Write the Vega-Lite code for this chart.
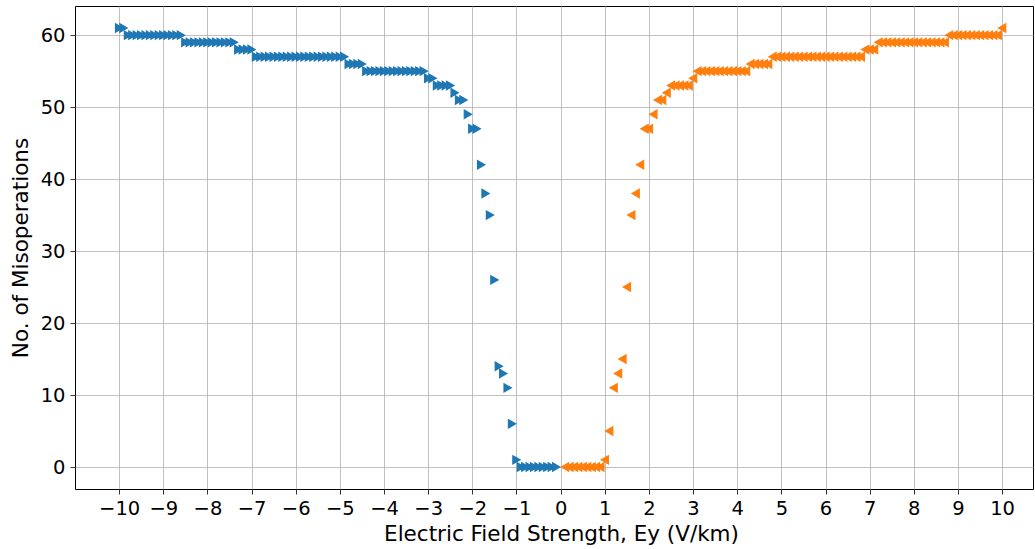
{
  "$schema": "https://vega.github.io/schema/vega-lite/v6.json",
  "width": 958,
  "height": 483,
  "autosize": {"type": "none"},
  "padding": {"left": 75, "top": 6, "right": 2, "bottom": 60},
  "background": "white",
  "config": {
    "view": {"stroke": "black", "strokeWidth": 1},
    "axis": {
      "grid": true,
      "gridColor": "#b0b0b0",
      "gridWidth": 0.8,
      "domain": false,
      "tickColor": "black",
      "tickSize": 5,
      "tickWidth": 0.8,
      "labelFont": "DejaVu Sans",
      "labelFontSize": 19.5,
      "labelColor": "black",
      "labelPadding": 4,
      "titleFont": "DejaVu Sans",
      "titleFontSize": 21.5,
      "titleFontWeight": "normal",
      "titleColor": "black"
    }
  },
  "datasets": {
    "pts": [
      {"x": -10, "y": 61, "s": "n"}, {"x": -9.9, "y": 61, "s": "n"},
      {"x": -9.8, "y": 60, "s": "n"}, {"x": -9.7, "y": 60, "s": "n"}, {"x": -9.6, "y": 60, "s": "n"}, {"x": -9.5, "y": 60, "s": "n"}, {"x": -9.4, "y": 60, "s": "n"}, {"x": -9.3, "y": 60, "s": "n"}, {"x": -9.2, "y": 60, "s": "n"}, {"x": -9.1, "y": 60, "s": "n"}, {"x": -9.0, "y": 60, "s": "n"}, {"x": -8.9, "y": 60, "s": "n"}, {"x": -8.8, "y": 60, "s": "n"}, {"x": -8.7, "y": 60, "s": "n"}, {"x": -8.6, "y": 60, "s": "n"},
      {"x": -8.5, "y": 59, "s": "n"}, {"x": -8.4, "y": 59, "s": "n"}, {"x": -8.3, "y": 59, "s": "n"}, {"x": -8.2, "y": 59, "s": "n"}, {"x": -8.1, "y": 59, "s": "n"}, {"x": -8.0, "y": 59, "s": "n"}, {"x": -7.9, "y": 59, "s": "n"}, {"x": -7.8, "y": 59, "s": "n"}, {"x": -7.7, "y": 59, "s": "n"}, {"x": -7.6, "y": 59, "s": "n"}, {"x": -7.5, "y": 59, "s": "n"}, {"x": -7.4, "y": 59, "s": "n"},
      {"x": -7.3, "y": 58, "s": "n"}, {"x": -7.2, "y": 58, "s": "n"}, {"x": -7.1, "y": 58, "s": "n"}, {"x": -7.0, "y": 58, "s": "n"},
      {"x": -6.9, "y": 57, "s": "n"}, {"x": -6.8, "y": 57, "s": "n"}, {"x": -6.7, "y": 57, "s": "n"}, {"x": -6.6, "y": 57, "s": "n"}, {"x": -6.5, "y": 57, "s": "n"}, {"x": -6.4, "y": 57, "s": "n"}, {"x": -6.3, "y": 57, "s": "n"}, {"x": -6.2, "y": 57, "s": "n"}, {"x": -6.1, "y": 57, "s": "n"}, {"x": -6.0, "y": 57, "s": "n"}, {"x": -5.9, "y": 57, "s": "n"}, {"x": -5.8, "y": 57, "s": "n"}, {"x": -5.7, "y": 57, "s": "n"}, {"x": -5.6, "y": 57, "s": "n"}, {"x": -5.5, "y": 57, "s": "n"}, {"x": -5.4, "y": 57, "s": "n"}, {"x": -5.3, "y": 57, "s": "n"}, {"x": -5.2, "y": 57, "s": "n"}, {"x": -5.1, "y": 57, "s": "n"}, {"x": -5.0, "y": 57, "s": "n"}, {"x": -4.9, "y": 57, "s": "n"},
      {"x": -4.8, "y": 56, "s": "n"}, {"x": -4.7, "y": 56, "s": "n"}, {"x": -4.6, "y": 56, "s": "n"}, {"x": -4.5, "y": 56, "s": "n"},
      {"x": -4.4, "y": 55, "s": "n"}, {"x": -4.3, "y": 55, "s": "n"}, {"x": -4.2, "y": 55, "s": "n"}, {"x": -4.1, "y": 55, "s": "n"}, {"x": -4.0, "y": 55, "s": "n"}, {"x": -3.9, "y": 55, "s": "n"}, {"x": -3.8, "y": 55, "s": "n"}, {"x": -3.7, "y": 55, "s": "n"}, {"x": -3.6, "y": 55, "s": "n"}, {"x": -3.5, "y": 55, "s": "n"}, {"x": -3.4, "y": 55, "s": "n"}, {"x": -3.3, "y": 55, "s": "n"}, {"x": -3.2, "y": 55, "s": "n"}, {"x": -3.1, "y": 55, "s": "n"},
      {"x": -3.0, "y": 54, "s": "n"}, {"x": -2.9, "y": 54, "s": "n"},
      {"x": -2.8, "y": 53, "s": "n"}, {"x": -2.7, "y": 53, "s": "n"}, {"x": -2.6, "y": 53, "s": "n"}, {"x": -2.5, "y": 53, "s": "n"},
      {"x": -2.4, "y": 52, "s": "n"},
      {"x": -2.3, "y": 51, "s": "n"}, {"x": -2.2, "y": 51, "s": "n"},
      {"x": -2.1, "y": 49, "s": "n"},
      {"x": -2.0, "y": 47, "s": "n"}, {"x": -1.9, "y": 47, "s": "n"},
      {"x": -1.8, "y": 42, "s": "n"}, {"x": -1.7, "y": 38, "s": "n"}, {"x": -1.6, "y": 35, "s": "n"}, {"x": -1.5, "y": 26, "s": "n"}, {"x": -1.4, "y": 14, "s": "n"}, {"x": -1.3, "y": 13, "s": "n"}, {"x": -1.2, "y": 11, "s": "n"}, {"x": -1.1, "y": 6, "s": "n"}, {"x": -1.0, "y": 1, "s": "n"},
      {"x": -0.9, "y": 0, "s": "n"}, {"x": -0.8, "y": 0, "s": "n"}, {"x": -0.7, "y": 0, "s": "n"}, {"x": -0.6, "y": 0, "s": "n"}, {"x": -0.5, "y": 0, "s": "n"}, {"x": -0.4, "y": 0, "s": "n"}, {"x": -0.3, "y": 0, "s": "n"}, {"x": -0.2, "y": 0, "s": "n"}, {"x": -0.1, "y": 0, "s": "n"},
      {"x": 0.1, "y": 0, "s": "p"}, {"x": 0.2, "y": 0, "s": "p"}, {"x": 0.3, "y": 0, "s": "p"}, {"x": 0.4, "y": 0, "s": "p"}, {"x": 0.5, "y": 0, "s": "p"}, {"x": 0.6, "y": 0, "s": "p"}, {"x": 0.7, "y": 0, "s": "p"}, {"x": 0.8, "y": 0, "s": "p"}, {"x": 0.9, "y": 0, "s": "p"},
      {"x": 1.0, "y": 1, "s": "p"}, {"x": 1.1, "y": 5, "s": "p"}, {"x": 1.2, "y": 11, "s": "p"}, {"x": 1.3, "y": 13, "s": "p"}, {"x": 1.4, "y": 15, "s": "p"}, {"x": 1.5, "y": 25, "s": "p"}, {"x": 1.6, "y": 35, "s": "p"}, {"x": 1.7, "y": 38, "s": "p"}, {"x": 1.8, "y": 42, "s": "p"},
      {"x": 1.9, "y": 47, "s": "p"}, {"x": 2.0, "y": 47, "s": "p"},
      {"x": 2.1, "y": 49, "s": "p"},
      {"x": 2.2, "y": 51, "s": "p"}, {"x": 2.3, "y": 51, "s": "p"},
      {"x": 2.4, "y": 52, "s": "p"},
      {"x": 2.5, "y": 53, "s": "p"}, {"x": 2.6, "y": 53, "s": "p"}, {"x": 2.7, "y": 53, "s": "p"}, {"x": 2.8, "y": 53, "s": "p"}, {"x": 2.9, "y": 53, "s": "p"},
      {"x": 3.0, "y": 54, "s": "p"},
      {"x": 3.1, "y": 55, "s": "p"}, {"x": 3.2, "y": 55, "s": "p"}, {"x": 3.3, "y": 55, "s": "p"}, {"x": 3.4, "y": 55, "s": "p"}, {"x": 3.5, "y": 55, "s": "p"}, {"x": 3.6, "y": 55, "s": "p"}, {"x": 3.7, "y": 55, "s": "p"}, {"x": 3.8, "y": 55, "s": "p"}, {"x": 3.9, "y": 55, "s": "p"}, {"x": 4.0, "y": 55, "s": "p"}, {"x": 4.1, "y": 55, "s": "p"}, {"x": 4.2, "y": 55, "s": "p"},
      {"x": 4.3, "y": 56, "s": "p"}, {"x": 4.4, "y": 56, "s": "p"}, {"x": 4.5, "y": 56, "s": "p"}, {"x": 4.6, "y": 56, "s": "p"}, {"x": 4.7, "y": 56, "s": "p"},
      {"x": 4.8, "y": 57, "s": "p"}, {"x": 4.9, "y": 57, "s": "p"}, {"x": 5.0, "y": 57, "s": "p"}, {"x": 5.1, "y": 57, "s": "p"}, {"x": 5.2, "y": 57, "s": "p"}, {"x": 5.3, "y": 57, "s": "p"}, {"x": 5.4, "y": 57, "s": "p"}, {"x": 5.5, "y": 57, "s": "p"}, {"x": 5.6, "y": 57, "s": "p"}, {"x": 5.7, "y": 57, "s": "p"}, {"x": 5.8, "y": 57, "s": "p"}, {"x": 5.9, "y": 57, "s": "p"}, {"x": 6.0, "y": 57, "s": "p"}, {"x": 6.1, "y": 57, "s": "p"}, {"x": 6.2, "y": 57, "s": "p"}, {"x": 6.3, "y": 57, "s": "p"}, {"x": 6.4, "y": 57, "s": "p"}, {"x": 6.5, "y": 57, "s": "p"}, {"x": 6.6, "y": 57, "s": "p"}, {"x": 6.7, "y": 57, "s": "p"}, {"x": 6.8, "y": 57, "s": "p"},
      {"x": 6.9, "y": 58, "s": "p"}, {"x": 7.0, "y": 58, "s": "p"}, {"x": 7.1, "y": 58, "s": "p"},
      {"x": 7.2, "y": 59, "s": "p"}, {"x": 7.3, "y": 59, "s": "p"}, {"x": 7.4, "y": 59, "s": "p"}, {"x": 7.5, "y": 59, "s": "p"}, {"x": 7.6, "y": 59, "s": "p"}, {"x": 7.7, "y": 59, "s": "p"}, {"x": 7.8, "y": 59, "s": "p"}, {"x": 7.9, "y": 59, "s": "p"}, {"x": 8.0, "y": 59, "s": "p"}, {"x": 8.1, "y": 59, "s": "p"}, {"x": 8.2, "y": 59, "s": "p"}, {"x": 8.3, "y": 59, "s": "p"}, {"x": 8.4, "y": 59, "s": "p"}, {"x": 8.5, "y": 59, "s": "p"}, {"x": 8.6, "y": 59, "s": "p"}, {"x": 8.7, "y": 59, "s": "p"},
      {"x": 8.8, "y": 60, "s": "p"}, {"x": 8.9, "y": 60, "s": "p"}, {"x": 9.0, "y": 60, "s": "p"}, {"x": 9.1, "y": 60, "s": "p"}, {"x": 9.2, "y": 60, "s": "p"}, {"x": 9.3, "y": 60, "s": "p"}, {"x": 9.4, "y": 60, "s": "p"}, {"x": 9.5, "y": 60, "s": "p"}, {"x": 9.6, "y": 60, "s": "p"}, {"x": 9.7, "y": 60, "s": "p"}, {"x": 9.8, "y": 60, "s": "p"}, {"x": 9.9, "y": 60, "s": "p"},
      {"x": 10.0, "y": 61, "s": "p"}
    ]
  },
  "data": {"name": "pts"},
  "mark": {"type": "point", "filled": true, "size": 70, "opacity": 1, "strokeWidth": 1.2},
  "encoding": {
    "x": {
      "field": "x",
      "type": "quantitative",
      "scale": {"domain": [-11, 10.7], "nice": false, "zero": false},
      "axis": {
        "values": [-10, -9, -8, -7, -6, -5, -4, -3, -2, -1, 0, 1, 2, 3, 4, 5, 6, 7, 8, 9, 10],
        "format": "d",
        "title": "Electric Field Strength, Ey (V/km)",
        "labelPadding": 5,
        "titlePadding": 6,
        "titleX": 486
      }
    },
    "y": {
      "field": "y",
      "type": "quantitative",
      "scale": {"domain": [-3.05, 64.05], "nice": false, "zero": false},
      "axis": {
        "values": [0, 10, 20, 30, 40, 50, 60],
        "format": "d",
        "title": "No. of Misoperations",
        "labelPadding": 5,
        "titlePadding": 8
      }
    },
    "color": {"field": "s", "type": "nominal", "scale": {"domain": ["n", "p"], "range": ["#1f77b4", "#ff7f0e"]}, "legend": null},
    "stroke": {"field": "s", "type": "nominal", "scale": {"domain": ["n", "p"], "range": ["#1f77b4", "#ff7f0e"]}, "legend": null},
    "shape": {"field": "s", "type": "nominal", "scale": {"domain": ["n", "p"], "range": ["triangle-right", "triangle-left"]}, "legend": null}
  }
}
